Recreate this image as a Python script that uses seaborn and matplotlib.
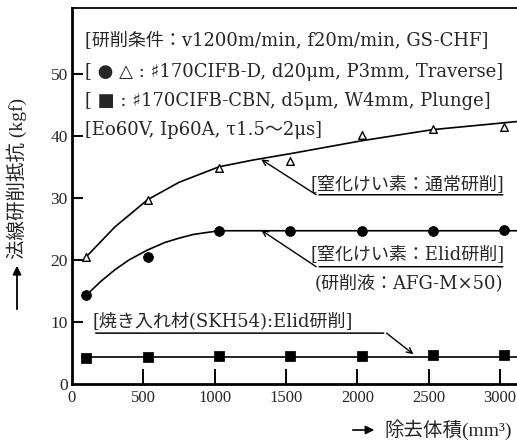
import matplotlib
matplotlib.use("Agg")
import matplotlib.pyplot as plt
import seaborn as sns

sns.set_style("white")
FAM = ['DejaVu Serif', 'Noto Sans CJK JP', 'DejaVu Sans']
TICKFAM = ['Liberation Serif', 'DejaVu Serif']
LABFAM = ['Liberation Serif', 'Noto Sans CJK JP', 'DejaVu Sans']
plt.rcParams['font.family'] = FAM
plt.rcParams['axes.unicode_minus'] = False

# ---- data ----
removed_volume = [100, 530, 1030, 1530, 2030, 2530, 3030]
normal_grinding = [20.5, 29.6, 34.8, 36.0, 40.2, 41.1, 41.5]   # triangles
elid_nitride = [14.3, 20.5, 24.7, 24.7, 24.7, 24.7, 24.8]      # circles
elid_skh54 = [4.2, 4.3, 4.5, 4.5, 4.5, 4.6, 4.7]                # squares

normal_curve_x = [100, 300, 530, 750, 1030, 1270, 1550, 2030, 2530, 3120]
normal_curve_y = [20.5, 25.3, 29.7, 32.5, 35.0, 36.1, 37.2, 39.2, 41.0, 42.3]
elid_curve_x = [100, 200, 300, 400, 530, 650, 750, 850, 1030, 3120]
elid_curve_y = [14.3, 16.5, 18.4, 20.0, 21.6, 22.8, 23.5, 24.1, 24.7, 24.7]
skh_line_x = [100, 3120]
skh_line_y = [4.4, 4.4]

x_ticks = [0, 500, 1000, 1500, 2000, 2500, 3000]
y_ticks = [0, 10, 20, 30, 40, 50]

fig = plt.figure(figsize=(5.17, 4.42), dpi=100)
ax = fig.add_axes([72/517, 58/442, 445/517, 376/442])

sns.lineplot(x=normal_curve_x, y=normal_curve_y, ax=ax, color='black', lw=1.2, sort=False)
sns.lineplot(x=elid_curve_x, y=elid_curve_y, ax=ax, color='black', lw=1.2, sort=False)
sns.lineplot(x=skh_line_x, y=skh_line_y, ax=ax, color='black', lw=1.2, sort=False)

sns.scatterplot(x=removed_volume, y=normal_grinding, ax=ax, marker='^', s=30,
                facecolor='white', edgecolor='black', linewidth=1.0, zorder=5)
sns.scatterplot(x=removed_volume, y=elid_nitride, ax=ax, marker='o', s=50,
                color='black', edgecolor='black', zorder=5)
sns.scatterplot(x=removed_volume, y=elid_skh54, ax=ax, marker='s', s=45,
                color='black', edgecolor='black', zorder=5)

ax.set_xlim(0, 3120)
ax.set_ylim(0, 60.6)
ax.set_xticks(x_ticks)
ax.set_yticks(y_ticks)
ax.set_xticklabels([str(v) for v in x_ticks], fontsize=12, family=TICKFAM)
ax.set_yticklabels([str(v) for v in y_ticks], fontsize=12.5, family=TICKFAM)
ax.tick_params(axis='x', bottom=True, direction='in', length=11, width=1.4, pad=4, color='black')
ax.tick_params(axis='y', left=True, direction='in', length=8, width=1.4, pad=3, color='black')
ax.xaxis.get_major_ticks()[0].tick1line.set_visible(False)
ax.yaxis.get_major_ticks()[0].tick1line.set_visible(False)
for s in ['left', 'bottom']:
    ax.spines[s].set_linewidth(2.0)
    ax.spines[s].set_color('black')
ax.spines['top'].set_linewidth(1.3)
ax.spines['top'].set_color('black')
ax.spines['right'].set_visible(False)
ax.set_xlabel('')
ax.set_ylabel('')

fs = 13
top_lines = [
    (55.2, '[研削条件：v1200m/min, f20m/min, GS-CHF]'),
    (50.3, '[ ● △ : ♯170CIFB-D, d20μm, P3mm, Traverse]'),
    (45.6, '[ ■ : ♯170CIFB-CBN, d5μm, W4mm, Plunge]'),
    (40.9, '[Eo60V, Ip60A, τ1.5～2μs]'),
]
for yy, t in top_lines:
    ax.text(91, yy, t, fontsize=fs, va='center', ha='left', family=FAM)

# annotations
ax.text(1675, 32.3, '[窒化けい素：通常研削]', fontsize=fs, va='center', ha='left', family=FAM)
ax.annotate('', xy=(3040, 30.5), xytext=(1712, 30.5),
            arrowprops=dict(arrowstyle='-', lw=1.1, color='black'))
ax.annotate('', xy=(1326, 36.2), xytext=(1712, 30.5),
            arrowprops=dict(arrowstyle='->', lw=1.0, color='black', shrinkA=0, shrinkB=0))

ax.text(1675, 21.0, '[窒化けい素：Elid研削]', fontsize=fs, va='center', ha='left', family=FAM)
ax.annotate('', xy=(3040, 18.9), xytext=(1712, 18.9),
            arrowprops=dict(arrowstyle='-', lw=1.1, color='black'))
ax.annotate('', xy=(1326, 24.8), xytext=(1712, 18.9),
            arrowprops=dict(arrowstyle='->', lw=1.0, color='black', shrinkA=0, shrinkB=0))
ax.text(1700, 16.3, '(研削液：AFG-M×50)', fontsize=fs, va='center', ha='left', family=FAM)

ax.text(147, 10.2, '[焼き入れ材(SKH54):Elid研削]', fontsize=fs, va='center', ha='left', family=FAM)
ax.annotate('', xy=(2205, 8.2), xytext=(147, 8.2),
            arrowprops=dict(arrowstyle='-', lw=1.1, color='black'))
ax.annotate('', xy=(2394, 4.8), xytext=(2205, 8.2),
            arrowprops=dict(arrowstyle='->', lw=1.0, color='black', shrinkA=0, shrinkB=0))

# axis labels
fig.text(17/517, 1 - 178/442, '法線研削抵抗 (kgf)', rotation=90, fontsize=14,
         ha='center', va='center', family=LABFAM)
fig.patches.append(matplotlib.patches.FancyArrowPatch(
    (17/517, 1 - 312/442), (17/517, 1 - 263/442), transform=fig.transFigure,
    arrowstyle='-|>,head_length=5,head_width=2.5', lw=1.3, color='black'))

fig.text(384/517, 1 - 430/442, '除去体積(mm³)', fontsize=14, ha='left', va='center', family=LABFAM)
fig.patches.append(matplotlib.patches.FancyArrowPatch(
    (350/517, 1 - 430/442), (377/517, 1 - 430/442), transform=fig.transFigure,
    arrowstyle='-|>,head_length=5,head_width=2.5', lw=1.2, color='black'))

fig.savefig('out.png', dpi=100)
